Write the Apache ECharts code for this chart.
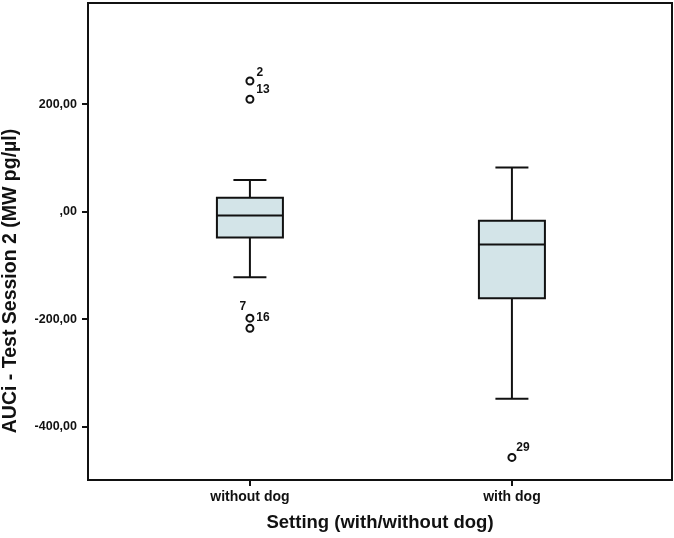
<!DOCTYPE html>
<html><head><meta charset="utf-8">
<script src="https://cdn.jsdelivr.net/npm/echarts@6/dist/echarts.min.js"></script>
<style>html,body{margin:0;padding:0;background:#fff}#c{width:674px;height:538px}</style>
</head><body><div id="c"></div>
<script>
// ---- data ----
const categories = ['without dog', 'with dog'];
const lowerWhisker = [-122, -348];
const q1 = [-48, -161];
const median = [-7, -61];
const q3 = [26, -17];
const upperWhisker = [59, 82];
const outlierCategory = [0, 0, 0, 0, 1];
const outlierValue = [243, 209, -198, -217, -457];
const outlierId = ['2', '13', '7', '16', '29'];
const yTicks = [-400, -200, 0, 200];
const yMin = -499, yMax = 388;
const xTicks = [0, 1];

// ---- styles ----
const FONT = 'Liberation Sans, Arial, sans-serif';
const labelOffsets = [[10, -8], [13, -10], [-7, -11], [13, -11], [11, -10]];
const BOX_HALF = 33, CAP_HALF = 16.5;

function fmtY(v) {
  const s = Math.abs(v).toFixed(2).replace('.', ',');
  const t = (Math.abs(v) < 1) ? s.replace(/^0/, '') : s;
  return (v < 0 ? '-' : '') + t;
}

function renderBox(params, api) {
  const x = api.value(0);
  const lo = api.coord([x, api.value(1)]);
  const b1 = api.coord([x, api.value(2)]);
  const md = api.coord([x, api.value(3)]);
  const b3 = api.coord([x, api.value(4)]);
  const hi = api.coord([x, api.value(5)]);
  const cx = lo[0];
  const ls = {stroke: '#111', lineWidth: 2};
  return {type: 'group', children: [
    {type: 'line', shape: {x1: cx, y1: hi[1], x2: cx, y2: b3[1]}, style: ls},
    {type: 'line', shape: {x1: cx, y1: b1[1], x2: cx, y2: lo[1]}, style: ls},
    {type: 'line', shape: {x1: cx - CAP_HALF, y1: hi[1], x2: cx + CAP_HALF, y2: hi[1]}, style: ls},
    {type: 'line', shape: {x1: cx - CAP_HALF, y1: lo[1], x2: cx + CAP_HALF, y2: lo[1]}, style: ls},
    {type: 'rect', shape: {x: cx - BOX_HALF, y: b3[1], width: 2 * BOX_HALF, height: b1[1] - b3[1]},
     style: {fill: '#d3e4e8', stroke: '#111', lineWidth: 2}},
    {type: 'line', shape: {x1: cx - BOX_HALF, y1: md[1], x2: cx + BOX_HALF, y2: md[1]}, style: ls}
  ]};
}

const boxData = categories.map((c, i) => [i, lowerWhisker[i], q1[i], median[i], q3[i], upperWhisker[i]]);
const outData = outlierCategory.map((c, i) => ({
  value: [c, outlierValue[i]],
  label: {offset: labelOffsets[i]}
}));

const chart = echarts.init(document.getElementById('c'), null, {renderer: 'canvas'});
chart.setOption({
  animation: false,
  backgroundColor: '#fff',
  grid: {left: 88, right: 2, top: 3, bottom: 58, show: true, borderColor: '#111', borderWidth: 2},
  xAxis: {
    type: 'value', min: -0.618, max: 1.611,
    axisLine: {show: true, onZero: false, lineStyle: {color: '#111', width: 2}},
    axisTick: {show: true, customValues: xTicks, length: 6, lineStyle: {color: '#111', width: 2}},
    axisLabel: {customValues: xTicks, formatter: v => categories[Math.round(v)] || '',
      fontFamily: FONT, fontSize: 14, fontWeight: 'bold', color: '#111', margin: 10},
    splitLine: {show: false},
    name: 'Setting (with/without dog)', nameLocation: 'middle', nameGap: 33,
    nameTextStyle: {fontFamily: FONT, fontSize: 18.5, fontWeight: 'bold', color: '#111'}
  },
  yAxis: {
    type: 'value', min: yMin, max: yMax,
    axisLine: {show: true, onZero: false, lineStyle: {color: '#111', width: 2}},
    axisTick: {show: true, customValues: yTicks, length: 6, lineStyle: {color: '#111', width: 2}},
    axisLabel: {customValues: yTicks, formatter: fmtY,
      fontFamily: FONT, fontSize: 12.5, fontWeight: 'bold', color: '#111', margin: 11},
    splitLine: {show: false}
  },
  graphic: [{
    type: 'text', x: 11, y: 281, rotation: Math.PI / 2,
    style: {text: 'AUCi - Test Session 2 (MW pg/µl)', textAlign: 'center', textVerticalAlign: 'middle',
      font: 'bold 19.5px ' + FONT, fill: '#111'}
  }],
  series: [{
    type: 'custom', renderItem: renderBox, data: boxData,
    encode: {x: 0, y: [1, 2, 3, 4, 5]}, z: 2
  }, {
    type: 'scatter', data: outData, symbol: 'circle', symbolSize: 7,
    itemStyle: {color: '#fff', borderColor: '#111', borderWidth: 2, opacity: 1},
    label: {show: true, position: 'inside', formatter: p => outlierId[p.dataIndex],
      fontFamily: FONT, fontSize: 12, fontWeight: 'bold', color: '#111'},
    z: 3
  }]
});
</script></body></html>
